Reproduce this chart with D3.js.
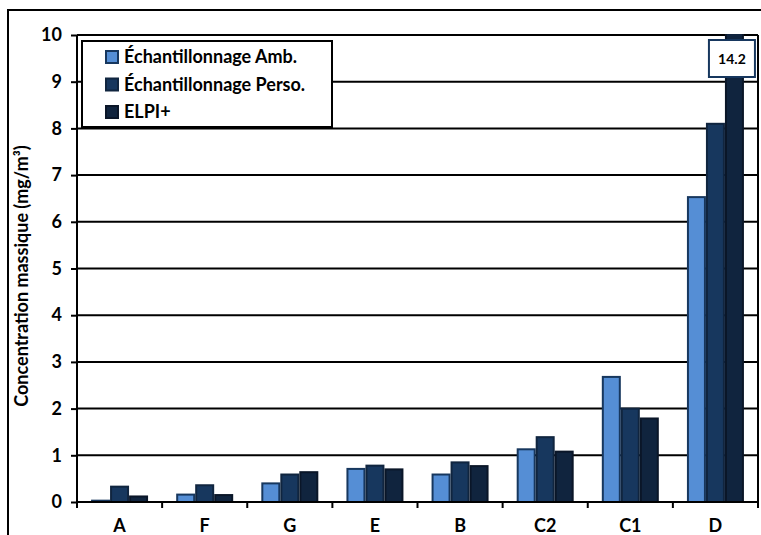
<!DOCTYPE html>
<html>
<head>
<meta charset="utf-8">
<script src="https://cdn.jsdelivr.net/npm/d3@7"></script>
<style>
  html, body { margin: 0; padding: 0; background: #fff; }
  svg { display: block; font-family: Lato, "Open Sans", sans-serif; }
</style>
</head>
<body>
<svg id="chart" width="761" height="535"></svg>
<script>
// Sites sampled, in plotted order
const categories = ["A", "F", "G", "E", "B", "C2", "C1", "D"];
// Mass concentration (mg/m³) per measurement method
const seriesNames = ["Échantillonnage Amb.", "Échantillonnage Perso.", "ELPI+"];
const ambValues   = [0.05, 0.18, 0.42, 0.73, 0.61, 1.15, 2.70, 6.55];
const persoValues = [0.35, 0.38, 0.61, 0.80, 0.87, 1.41, 2.02, 8.12];
const elpiValues  = [0.14, 0.17, 0.66, 0.72, 0.79, 1.10, 1.81, 14.2];
const yTicks = [0, 1, 2, 3, 4, 5, 6, 7, 8, 9, 10];
const yMax = 10;

const seriesFill   = ["#558ED5", "#17375E", "#10243E"];
const seriesStroke = ["#17375E", "#10253F", "#0A1628"];
const series = [ambValues, persoValues, elpiValues];

const svg = d3.select("#chart");
const plot = { left: 77, right: 758, top: 35, bottom: 502 };

// Outer chart frame (extends past the visible area on the right and bottom)
svg.append("rect")
  .attr("x", 8).attr("y", 10).attr("width", 800).attr("height", 600)
  .attr("fill", "none").attr("stroke", "#000").attr("stroke-width", 2);

const x = d3.scaleBand().domain(categories).range([plot.left, plot.right]).paddingInner(0).paddingOuter(0);
const y = d3.scaleLinear().domain([0, yMax]).range([plot.bottom, plot.top]);

// Horizontal gridlines
svg.append("g").selectAll("line").data(yTicks.filter(d => d > 0)).join("line")
  .attr("x1", plot.left).attr("x2", plot.right)
  .attr("y1", d => y(d)).attr("y2", d => y(d))
  .attr("stroke", "#000").attr("stroke-width", 2);

// Bars, clipped to the plot area
svg.append("clipPath").attr("id", "plotClip").append("rect")
  .attr("x", plot.left).attr("y", plot.top - 1)
  .attr("width", plot.right - plot.left).attr("height", plot.bottom - plot.top + 1);

const barGroup = svg.append("g").attr("clip-path", "url(#plotClip)");
const barW = 19;
series.forEach((vals, si) => {
  barGroup.append("g").selectAll("rect").data(vals).join("rect")
    .attr("x", (d, i) => x(categories[i]) + x.bandwidth() / 2 + (si - 1.5) * barW + 1)
    .attr("y", d => y(d) + 1)
    .attr("width", barW - 2)
    .attr("height", d => Math.max(0, y(0) - y(d) - 1))
    .attr("fill", seriesFill[si])
    .attr("stroke", seriesStroke[si])
    .attr("stroke-width", 2);
});

// Plot right border
svg.append("line")
  .attr("x1", plot.right).attr("x2", plot.right)
  .attr("y1", plot.top).attr("y2", plot.bottom)
  .attr("stroke", "#000").attr("stroke-width", 2);

// Y axis
const yAxis = svg.append("g")
  .attr("transform", `translate(${plot.left},0)`)
  .call(d3.axisLeft(y).tickValues(yTicks).tickSize(6).tickPadding(9).tickFormat(d3.format("d")));
yAxis.select(".domain").attr("stroke", "#000").attr("stroke-width", 2)
  .attr("d", `M0,${plot.top}V${plot.bottom}`);
yAxis.selectAll(".tick line").attr("stroke", "#000").attr("stroke-width", 2);
yAxis.selectAll(".tick text")
  .attr("font-family", "Lato, sans-serif").attr("font-size", 18).attr("font-weight", "bold")
  .attr("fill", "#000");

// X axis with tick marks between categories
const xAxisG = svg.append("g").attr("transform", `translate(0,${plot.bottom})`);
xAxisG.append("line")
  .attr("x1", plot.left).attr("x2", plot.right)
  .attr("stroke", "#000").attr("stroke-width", 2);
xAxisG.selectAll("line.sep").data(categories.concat(["_end"])).join("line")
  .attr("class", "sep")
  .attr("x1", (d, i) => plot.left + i * x.bandwidth())
  .attr("x2", (d, i) => plot.left + i * x.bandwidth())
  .attr("y1", 0).attr("y2", 6)
  .attr("stroke", "#000").attr("stroke-width", 2);
xAxisG.selectAll("text").data(categories).join("text")
  .attr("x", d => x(d) + x.bandwidth() / 2)
  .attr("y", 30)
  .attr("text-anchor", "middle")
  .attr("font-size", 18).attr("font-weight", "bold").attr("fill", "#000")
  .text(d => d);

// Y axis title
svg.append("text")
  .attr("transform", "translate(28,276) rotate(-90)")
  .attr("text-anchor", "middle")
  .attr("font-size", 18).attr("font-weight", "bold").attr("fill", "#000")
  .text("Concentration massique (mg/m³)");

// Value label for the off-scale ELPI+ bar of site D
const lastIdx = categories.length - 1;
const labelCx = x(categories[lastIdx]) + x.bandwidth() / 2 + 0.5 * barW + 7;
const labelG = svg.append("g").attr("transform", `translate(${labelCx},59)`);
labelG.append("rect")
  .attr("x", -23).attr("y", -19).attr("width", 46).attr("height", 37)
  .attr("fill", "#fff").attr("stroke", "#17375E").attr("stroke-width", 2);
labelG.append("text")
  .attr("text-anchor", "middle").attr("dy", "0.35em")
  .attr("font-size", 14).attr("font-weight", "bold").attr("fill", "#000")
  .text(d3.format(".1f")(elpiValues[lastIdx]));

// Legend
const legend = svg.append("g");
legend.append("rect")
  .attr("x", 82).attr("y", 41).attr("width", 250).attr("height", 86)
  .attr("fill", "#fff").attr("stroke", "#000").attr("stroke-width", 2);
seriesNames.forEach((name, i) => {
  const cy = 57 + i * 27.5;
  legend.append("rect")
    .attr("x", 106).attr("y", cy - 6).attr("width", 12).attr("height", 12)
    .attr("fill", seriesFill[i]).attr("stroke", seriesStroke[i]).attr("stroke-width", 2);
  legend.append("text")
    .attr("x", 124).attr("y", cy).attr("dy", "0.35em")
    .attr("font-size", 18).attr("font-weight", "bold").attr("fill", "#000")
    .text(name);
});
</script>
</body>
</html>
